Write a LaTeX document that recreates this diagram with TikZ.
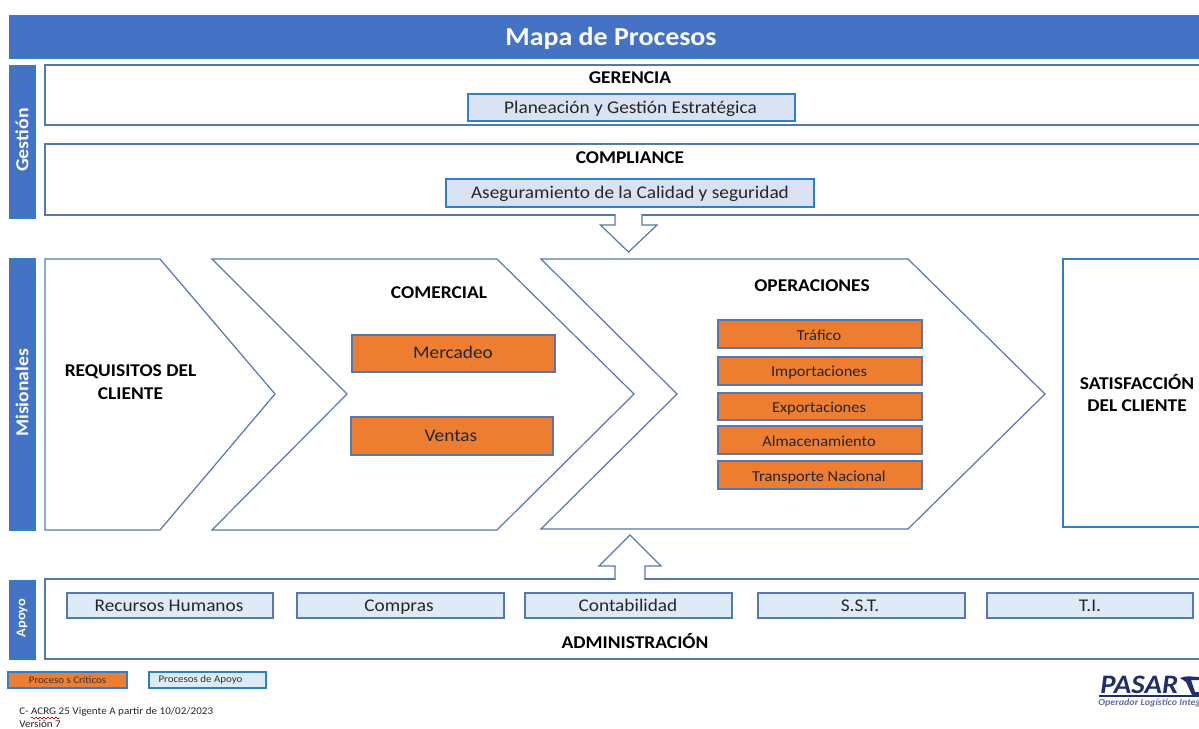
\documentclass[tikz,border=0pt]{standalone}
\usepackage{fontspec}
\setmainfont[FakeStretch=1.08]{Carlito}
\usetikzlibrary{decorations.pathmorphing}
\definecolor{bandblue}{HTML}{4472C4}
\definecolor{edgeblue}{HTML}{2E80C6}
\definecolor{darkedge}{HTML}{5578AE}
\definecolor{paleA}{HTML}{D9E2F3}
\definecolor{paleB}{HTML}{DEEAF6}
\definecolor{critical}{HTML}{ED7D31}
\definecolor{navy}{HTML}{1F2F6B}
\tikzset{
  x=0.75pt,y=-0.75pt,
  band/.style={fill=bandblue,draw=edgeblue,line width=0.8pt},
  outline/.style={draw=darkedge,line width=0.9pt,fill=white},
  palebox/.style={draw=edgeblue,line width=0.9pt,fill=paleA},
  supportbox/.style={draw=darkedge,line width=0.9pt,fill=paleB},
  critbox/.style={draw=#1,line width=0.9pt,fill=critical},
  critbox/.default=darkedge,
  lbl/.style={inner sep=0pt,text height=9pt,text depth=3pt,text=black!85,font=\fontsize{13.4pt}{15pt}\selectfont},
  oplbl/.style={inner sep=0pt,text height=8pt,text depth=2.5pt,text=black!85,font=\fontsize{11.4pt}{13pt}\selectfont},
  head/.style={inner sep=0pt,text=black,font=\fontsize{13.5pt}{17.2pt}\selectfont\bfseries,align=center},
  side/.style={inner sep=0pt,text=white!90!paleA,rotate=90},
}
\newcommand{\rectnode}[6]{% name, style, x1,y1,x2,y2
  \path[#2] (#3,#4) rectangle (#5,#6);
  \coordinate (#1) at ({(#3+#5)/2},{(#4+#6)/2});
}
\begin{document}
\begin{tikzpicture}
\useasboundingbox (0,0) rectangle (1199,728);
\clip (0,0) rectangle (1199,728);
\fill[white] (0,0) rectangle (1199,728);

% title band
\rectnode{title}{band}{9.5}{15.5}{1205}{58}
\node[inner sep=0pt,text=white,font=\fontsize{19.4pt}{22pt}\selectfont\bfseries] (titletext) at (611,38) {Mapa de Procesos};

% side bands
\rectnode{gest}{band}{9.5}{65.5}{35}{218}
\rectnode{mis}{band}{9.5}{258.5}{35}{530}
\rectnode{apo}{band}{9.5}{580.5}{35}{659}
\node[side,font=\fontsize{13.8pt}{14pt}\selectfont\bfseries] (gesttext) at (22,140) {Gestión};
\node[side,font=\fontsize{13.6pt}{14pt}\selectfont\bfseries] (mistext) at (22,393) {Misionales};
\node[side,font=\fontsize{10pt}{11pt}\selectfont\bfseries] (apotext) at (22,618) {Apoyo};

% management boxes
\rectnode{ger}{outline}{45}{65}{1210}{125}
\rectnode{comp}{outline}{45}{144}{1210}{215}
\node[head] (gertext) at (630,78) {GERENCIA};
\node[head] (comptext) at (630,158) {COMPLIANCE};
\rectnode{plan}{palebox}{468}{94}{795}{121}
\node[lbl] (plantext) at (630.5,109) {Planeación y Gestión Estratégica};
\rectnode{aseg}{palebox}{446}{179}{814}{207}
\node[lbl] (asegtext) at (630,194) {Aseguramiento de la Calidad y seguridad};

% support frame
\rectnode{adm}{outline}{45}{579}{1210}{659}

% down and up block arrows
\fill[white] (616,213) rectangle (641,217);
\draw[darkedge,line width=0.9pt,fill=white]
  (615,214.5) -- (615,225) -- (600.5,225) -- (628.5,252) -- (657,225) -- (642,225) -- (642,214.5);
\fill[white] (616,576) rectangle (644,582);
\draw[darkedge,line width=0.9pt,fill=white]
  (615,579) -- (615,566) -- (599,566) -- (630,535) -- (661,566) -- (645,566) -- (645,579);

% chevrons
\draw[outline] (45,259) -- (160,259) -- (275,394) -- (160,530) -- (45,530) -- cycle;
\draw[outline] (212,259) -- (497,259) -- (634,394) -- (497,530) -- (212,530) -- (347,394) -- cycle;
\draw[outline] (541,259) -- (908,259) -- (1045,394) -- (908,529) -- (541,529) -- (677,394) -- cycle;
\path[draw=edgeblue,line width=0.9pt,fill=white] (1063,259) rectangle (1210,527);

\node[head] (req) at (130.5,382.5) {REQUISITOS DEL\\CLIENTE};
\node[head] (comer) at (439,293) {COMERCIAL};
\node[head] (oper) at (812,286) {OPERACIONES};
\node[head] (sat) at (1137,393) {SATISFACCIÓN\\DEL CLIENTE};

% commercial boxes
\rectnode{merc}{critbox}{352}{335}{555}{372}
\node[lbl] (merctext) at (453,354) {Mercadeo};
\rectnode{vent}{critbox}{351}{417}{553}{455}
\node[lbl] (venttext) at (451,437) {Ventas};

% operations boxes
\rectnode{o1}{critbox}{718}{320}{922}{348}
\node[oplbl] (o1t) at (819,336.5) {Tráfico};
\rectnode{o2}{critbox}{718}{357}{922}{385}
\node[oplbl] (o2t) at (819,372.5) {Importaciones};
\rectnode{o3}{critbox}{718}{393}{922}{420}
\node[oplbl] (o3t) at (819,408.5) {Exportaciones};
\rectnode{o4}{critbox}{718}{426}{922}{454}
\node[oplbl] (o4t) at (819,442.5) {Almacenamiento};
\rectnode{o5}{critbox}{718}{461}{922}{489}
\node[oplbl] (o5t) at (819,477.5) {Transporte Nacional};

% support boxes
\rectnode{s1}{supportbox}{67}{593}{273}{618}
\node[lbl] (s1t) at (169,607) {Recursos Humanos};
\rectnode{s2}{supportbox}{297}{593}{504}{618}
\node[lbl] (s2t) at (399,607) {Compras};
\rectnode{s3}{supportbox}{525}{593}{732}{618}
\node[lbl] (s3t) at (628,607) {Contabilidad};
\rectnode{s4}{supportbox}{758}{593}{965}{618}
\node[lbl] (s4t) at (860,607) {S.S.T.};
\rectnode{s5}{supportbox}{987}{593}{1193}{618}
\node[lbl] (s5t) at (1090,607) {T.I.};
\node[head] (admt) at (635,640.5) {ADMINISTRACIÓN};

% legend
\path[draw=edgeblue,line width=0.9pt,fill=critical] (8,672) rectangle (127,688);
\node[inner sep=0pt,text=black!80,font=\fontsize{7.6pt}{8pt}\selectfont] (lg1) at (67.5,680) {Proceso s Críticos};
\path[draw=edgeblue,line width=0.9pt,fill=paleB] (149,672) rectangle (266,688);
\node[inner sep=0pt,text=black!80,font=\fontsize{7.6pt}{8pt}\selectfont] (lg2) at (200.5,680) {Procesos de Apoyo};

% footer
\node[inner sep=0pt,anchor=west,text=black!85,font=\fontsize{7.7pt}{8pt}\selectfont] (f1) at (19,712) {C- ACRG 25 Vigente A partir de 10/02/2023};
\node[inner sep=0pt,anchor=west,text=black!85,font=\fontsize{7.7pt}{8pt}\selectfont] (f2) at (19,723.5) {Versión 7};
\draw[red!80!black,line width=0.45pt,decorate,decoration={zigzag,segment length=3pt,amplitude=0.6pt}] (31,718) -- (60,718);

% logo
\node[inner sep=0pt,anchor=base west,text height=11pt,text depth=0pt,text=navy,font=\fontsize{20pt}{22pt}\selectfont\bfseries\itshape] (pasar) at (1100,693) {PASAR};
\fill[navy] (1099,695) rectangle (1199,696.5);
\node[inner sep=0pt,anchor=west,text=navy!70,font=\fontsize{7pt}{8pt}\selectfont\bfseries\itshape] (opl) at (1098,703) {Operador Logístico Integral};
\fill[navy] (1180,678) .. controls (1186,675) and (1193,677) .. (1199,677) -- (1199,680) -- (1191,680) -- (1195,692) -- (1199,692) -- (1199,695) -- (1192,695) -- (1186,682) -- cycle;
\end{tikzpicture}
\end{document}
